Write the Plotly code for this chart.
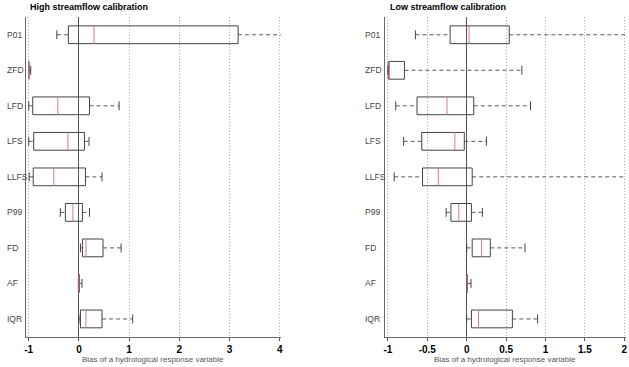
import plotly.graph_objects as go

categories = ["P01", "ZFD", "LFD", "LFS", "LLFS", "P99", "FD", "AF", "IQR"]

# High streamflow calibration (lower whisker, Q1, median, Q3, upper whisker)
high_lo = [-0.44, -1.00, -1.00, -1.00, -0.99, -0.37, 0.03, -0.01, 0.00]
high_q1 = [-0.21, -1.00, -0.92, -0.90, -0.91, -0.27, 0.07, -0.01, 0.03]
high_med = [0.30, -1.00, -0.42, -0.22, -0.50, -0.12, 0.14, 0.00, 0.14]
high_q3 = [3.17, -0.995, 0.21, 0.11, 0.13, 0.07, 0.48, 0.01, 0.46]
high_hi = [4.30, -0.96, 0.80, 0.20, 0.46, 0.21, 0.84, 0.06, 1.07]

# Low streamflow calibration
low_lo = [-0.65, -1.00, -0.90, -0.80, -0.92, -0.26, 0.00, 0.00, 0.00]
low_q1 = [-0.21, -0.995, -0.63, -0.57, -0.56, -0.20, 0.07, 0.00, 0.06]
low_med = [0.03, -0.98, -0.25, -0.15, -0.36, -0.10, 0.19, 0.005, 0.15]
low_q3 = [0.54, -0.79, 0.09, -0.03, 0.07, 0.06, 0.30, 0.01, 0.58]
low_hi = [2.30, 0.70, 0.81, 0.25, 2.30, 0.20, 0.74, 0.055, 0.90]

titles = ["High streamflow calibration", "Low streamflow calibration"]
x_title = "Bias of a hydrological response variable"
left_ticks = [-1, 0, 1, 2, 3, 4]
right_ticks = [-1, -0.5, 0, 0.5, 1, 1.5, 2]

W, H = 629, 367
FONT = "Liberation Sans, Arial, sans-serif"
BOX_COL = "#444444"
MED_COL = "#e07a7a"
WHISK_COL = "#5a5a5a"

fig = go.Figure()

n = len(categories)
ypos = [n - 1 - i for i in range(n)]  # P01 on top
half = 0.25
cap = 0.125


def add_panel(lo, q1, med, q3, hi, xa, ya):
    bx, by, mx, my, wx, wy, cx, cy = [], [], [], [], [], [], [], []
    for i in range(n):
        y = ypos[i]
        bx += [q1[i], q3[i], q3[i], q1[i], q1[i], None]
        by += [y - half, y - half, y + half, y + half, y - half, None]
        mx += [med[i], med[i], None]
        my += [y - half, y + half, None]
        wx += [lo[i], q1[i], None, q3[i], hi[i], None]
        wy += [y, y, None, y, y, None]
        cx += [lo[i], lo[i], None, hi[i], hi[i], None]
        cy += [y - cap, y + cap, None, y - cap, y + cap, None]
    fig.add_trace(go.Scatter(x=wx, y=wy, mode="lines", xaxis=xa, yaxis=ya,
                             line=dict(color=WHISK_COL, width=1, dash="4px,3px"),
                             hoverinfo="skip", showlegend=False))
    fig.add_trace(go.Scatter(x=cx, y=cy, mode="lines", xaxis=xa, yaxis=ya,
                             line=dict(color=BOX_COL, width=1),
                             hoverinfo="skip", showlegend=False))
    fig.add_trace(go.Scatter(x=bx, y=by, mode="lines", xaxis=xa, yaxis=ya,
                             line=dict(color=BOX_COL, width=1),
                             hoverinfo="skip", showlegend=False))
    fig.add_trace(go.Scatter(x=mx, y=my, mode="lines", xaxis=xa, yaxis=ya,
                             line=dict(color=MED_COL, width=1),
                             hoverinfo="skip", showlegend=False))


add_panel(high_lo, high_q1, high_med, high_q3, high_hi, "x", "y")
add_panel(low_lo, low_q1, low_med, low_q3, low_hi, "x2", "y2")

y_dom = [30.3 / H, 350 / H]
dom1 = [25.7 / W, 280.8 / W]
dom2 = [384.7 / W, 625.9 / W]


def xaxis(domain, rng, ticks, anchor):
    return dict(domain=domain, range=rng, anchor=anchor, automargin=False,
                tickmode="array", tickvals=ticks,
                ticktext=[("%g" % t) for t in ticks],
                tickfont=dict(family=FONT, size=10, color="#000000", weight="bold"),
                ticks="outside", ticklen=3, tickcolor="#555555", tickwidth=1,
                showline=True, linecolor="#6a6a6a", linewidth=1,
                showgrid=True, gridcolor="#b0b0b0", griddash="1px,2px", gridwidth=1,
                zeroline=True, zerolinecolor="#555555", zerolinewidth=1.3,
                fixedrange=True)


def yaxis(domain, anchor):
    return dict(domain=domain, range=[-0.5, n - 0.5], anchor=anchor, automargin=False,
                showticklabels=False, ticks="", showgrid=False, zeroline=False,
                showline=True, linecolor="#6a6a6a", linewidth=1, fixedrange=True)


annotations = []
for k, (ref, xp) in enumerate([("y", 5 / W), ("y2", 363.3 / W)]):
    for i, c in enumerate(categories):
        annotations.append(dict(text=c, xref="paper", yref=ref, x=xp, y=ypos[i],
                                xanchor="left", yanchor="middle", showarrow=False,
                                font=dict(family=FONT, size=8.5, color="#444444")))
for k, xc in enumerate([(25.7 + 280.8) / 2 / W, (384.7 + 625.9) / 2 / W]):
    annotations.append(dict(text=titles[k], xref="paper", yref="paper",
                            x=[28 / W, 388.3 / W][k], y=1 - 7 / H,
                            xanchor="left", yanchor="middle", showarrow=False,
                            font=dict(family=FONT, size=9, color="#000000", weight="bold")))
    annotations.append(dict(text=x_title, xref="paper", yref="paper", x=xc,
                            y=1 - 359 / H, xanchor="center", yanchor="middle",
                            showarrow=False,
                            font=dict(family=FONT, size=8, color="#555555")))

fig.update_layout(
    width=W, height=H,
    margin=dict(l=0, r=0, t=0, b=0, autoexpand=False),
    paper_bgcolor="white", plot_bgcolor="white",
    xaxis=xaxis(dom1, [-1.06, 4.02], left_ticks, "y"),
    yaxis=yaxis(y_dom, "x"),
    xaxis2=xaxis(dom2, [-1.04, 2.02], right_ticks, "y2"),
    yaxis2=yaxis(y_dom, "x2"),
    annotations=annotations,
    showlegend=False,
)

fig.write_html("out.html", config={"displayModeBar": False},
               post_script="document.body.style.margin='0';document.body.style.overflow='hidden';")
